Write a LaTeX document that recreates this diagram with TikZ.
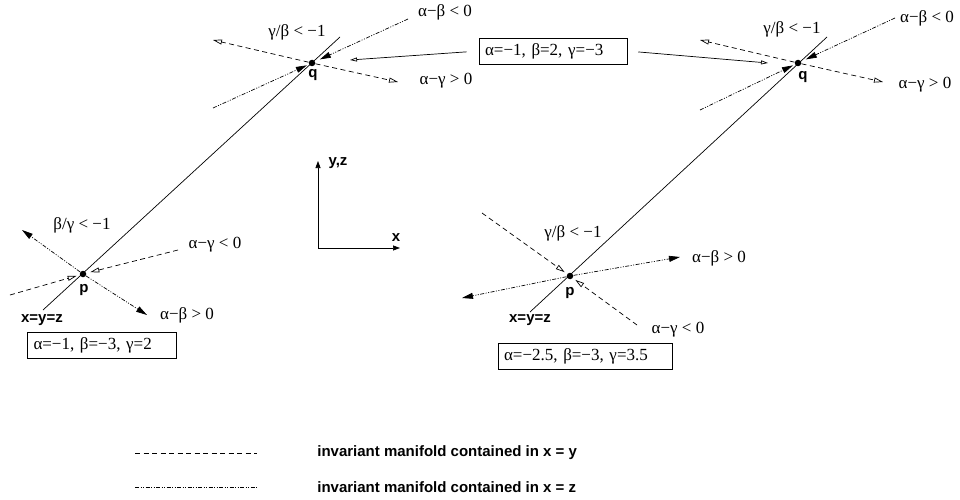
\documentclass[tikz,border=0pt]{standalone}
\usepackage{fontspec}
\setmainfont{Liberation Serif}
\newfontfamily\hv{Liberation Sans}
\usetikzlibrary{arrows.meta,calc}
\begin{document}
\begin{tikzpicture}[x=1pt,y=-1pt,
  line width=0.7pt,
  xy/.style={dash pattern=on 5pt off 3.5pt},
  xz/.style={dash pattern=on 4pt off 1.5pt on 1pt off 1.5pt on 1pt off 1.5pt},
  opentip/.style={-{Triangle[open,length=9pt,width=5pt]}},
  filltip/.style={-{Triangle[length=11pt,width=6pt]}},
  smalltip/.style={-{Triangle[open,length=7pt,width=4pt]}},
  lbl/.style={font=\fontsize{17}{19}\selectfont, inner sep=0},
  blbl/.style={font=\hv\bfseries\fontsize{15}{17}\selectfont, inner sep=0},
  dot/.style={circle,fill,inner sep=0,minimum size=6.5pt},
  parbox/.style={draw, line width=0.6pt, font=\fontsize{17}{19}\selectfont, minimum height=26pt, inner xsep=6pt, align=left}
]
\useasboundingbox (0,0) rectangle (960,500);

% ---------- left figure ----------
\node[dot] (qL) at (312,63) {};
\node[dot] (pL) at (83,274) {};
\coordinate (sLtop) at (340,37);
\coordinate (sLbot) at (43,310);
\draw (sLbot) -- (sLtop);

% q left
\coordinate (qLw) at (213,40);
\coordinate (qLe) at (398,82);
\draw[xy,opentip] (qL) -- (qLw);
\draw[xy,opentip] (qL) -- (qLe);
\coordinate (qLne) at (408,19);
\coordinate (qLsw) at (213,108);
\draw[xz,filltip,shorten >=5pt] (qLne) -- (qL);
\draw[xz,filltip,shorten >=2pt] (qLsw) -- (qL);
\node[lbl] (l1) at (297,32) {γ/β < −1};
\node[lbl] (l2) at (445,12) {α−β < 0};
\node[lbl] (l3) at (446,81) {α−γ > 0};
\node[blbl] (ql) at (313,75) {q};

% p left
\coordinate (pLnw) at (22,230);
\coordinate (pLse) at (147,315);
\draw[xz,filltip] (pL) -- (pLnw);
\draw[xz,filltip] (pL) -- (pLse);
\coordinate (pLw) at (10,295);
\coordinate (pLe) at (178,250);
\draw[xy,opentip,shorten >=3pt] (pLw) -- (pL);
\draw[xy,opentip,shorten >=4pt] (pLe) -- (pL);
\node[lbl] (l4) at (82,225) {β/γ < −1};
\node[lbl] (l5) at (215,245) {α−γ < 0};
\node[lbl] (l6) at (187,315) {α−β > 0};
\node[blbl] (pl) at (84,290) {p};
\node[blbl] (xl) at (42,320) {x=y=z};
\node[parbox,text width=137pt] (boxL) at (102,345) {α=−1, β=−3, γ=2};

% ---------- right figure ----------
\node[dot] (qR) at (798,63) {};
\node[dot] (pR) at (570,276) {};
\coordinate (sRtop) at (827,37);
\coordinate (sRbot) at (530,312);
\draw (sRbot) -- (sRtop);

% q right
\coordinate (qRw) at (700,40);
\coordinate (qRe) at (883,82);
\draw[xy,opentip] (qR) -- (qRw);
\draw[xy,opentip] (qR) -- (qRe);
\coordinate (qRne) at (895,18);
\coordinate (qRsw) at (700,110);
\draw[xz,filltip,shorten >=5pt] (qRne) -- (qR);
\draw[xz,filltip,shorten >=2pt] (qRsw) -- (qR);
\node[lbl] (r1) at (792,29) {γ/β < −1};
\node[lbl] (r2) at (927,18) {α−β < 0};
\node[lbl] (r3) at (925,85) {α−γ > 0};
\node[blbl] (qr) at (803,77) {q};

% p right
\coordinate (pRnw) at (482,213);
\coordinate (pRse) at (637,325);
\draw[xy,opentip,shorten >=3pt] (pRnw) -- (pR);
\draw[xy,opentip,shorten >=3pt] (pRse) -- (pR);
\coordinate (pRe) at (680,257);
\coordinate (pRw) at (462,298);
\draw[xz,filltip] (pR) -- (pRe);
\draw[xz,filltip] (pR) -- (pRw);
\node[lbl] (r4) at (573,233) {γ/β < −1};
\node[lbl] (r5) at (719,258) {α−β > 0};
\node[lbl] (r6) at (678,330) {α−γ < 0};
\node[blbl] (pr) at (570,293) {p};
\node[blbl] (xr) at (530,320) {x=y=z};
\node[parbox,text width=162pt] (boxR) at (585,356) {α=−2.5, β=−3, γ=3.5};

% ---------- top box ----------
\node[parbox,text width=136pt] (boxQ) at (553,51) {α=−1, β=2, γ=−3};
\coordinate (aL) at (350,60);
\coordinate (aR) at (768,63);
\draw[smalltip,shorten <=12pt] (boxQ.west) -- (aL);
\draw[smalltip,shorten <=11pt] (boxQ.east) -- (aR);

% ---------- axes ----------
\coordinate (o) at (318,248);
\coordinate (ay) at (318,161);
\coordinate (ax) at (400,248);
\draw[-{Triangle[length=7pt,width=5pt]}] (o) -- (ay);
\draw[-{Triangle[length=7pt,width=5pt]}] (o) -- (ax);
\node[blbl] (yz) at (338,163) {y,z};
\node[blbl] (xa) at (396,238) {x};

% ---------- legend ----------
\coordinate (g1a) at (135,453);
\coordinate (g1b) at (257,453);
\coordinate (g2a) at (135,487);
\coordinate (g2b) at (257,487);
\draw[xy,line width=0.5pt] (g1a) -- (g1b);
\draw[xz,line width=0.5pt] (g2a) -- (g2b);
\node[blbl,anchor=west] (t1) at (317,453) {invariant manifold contained in x = y};
\node[blbl,anchor=west] (t2) at (317,487) {invariant manifold contained in x = z};
\end{tikzpicture}
\end{document}
